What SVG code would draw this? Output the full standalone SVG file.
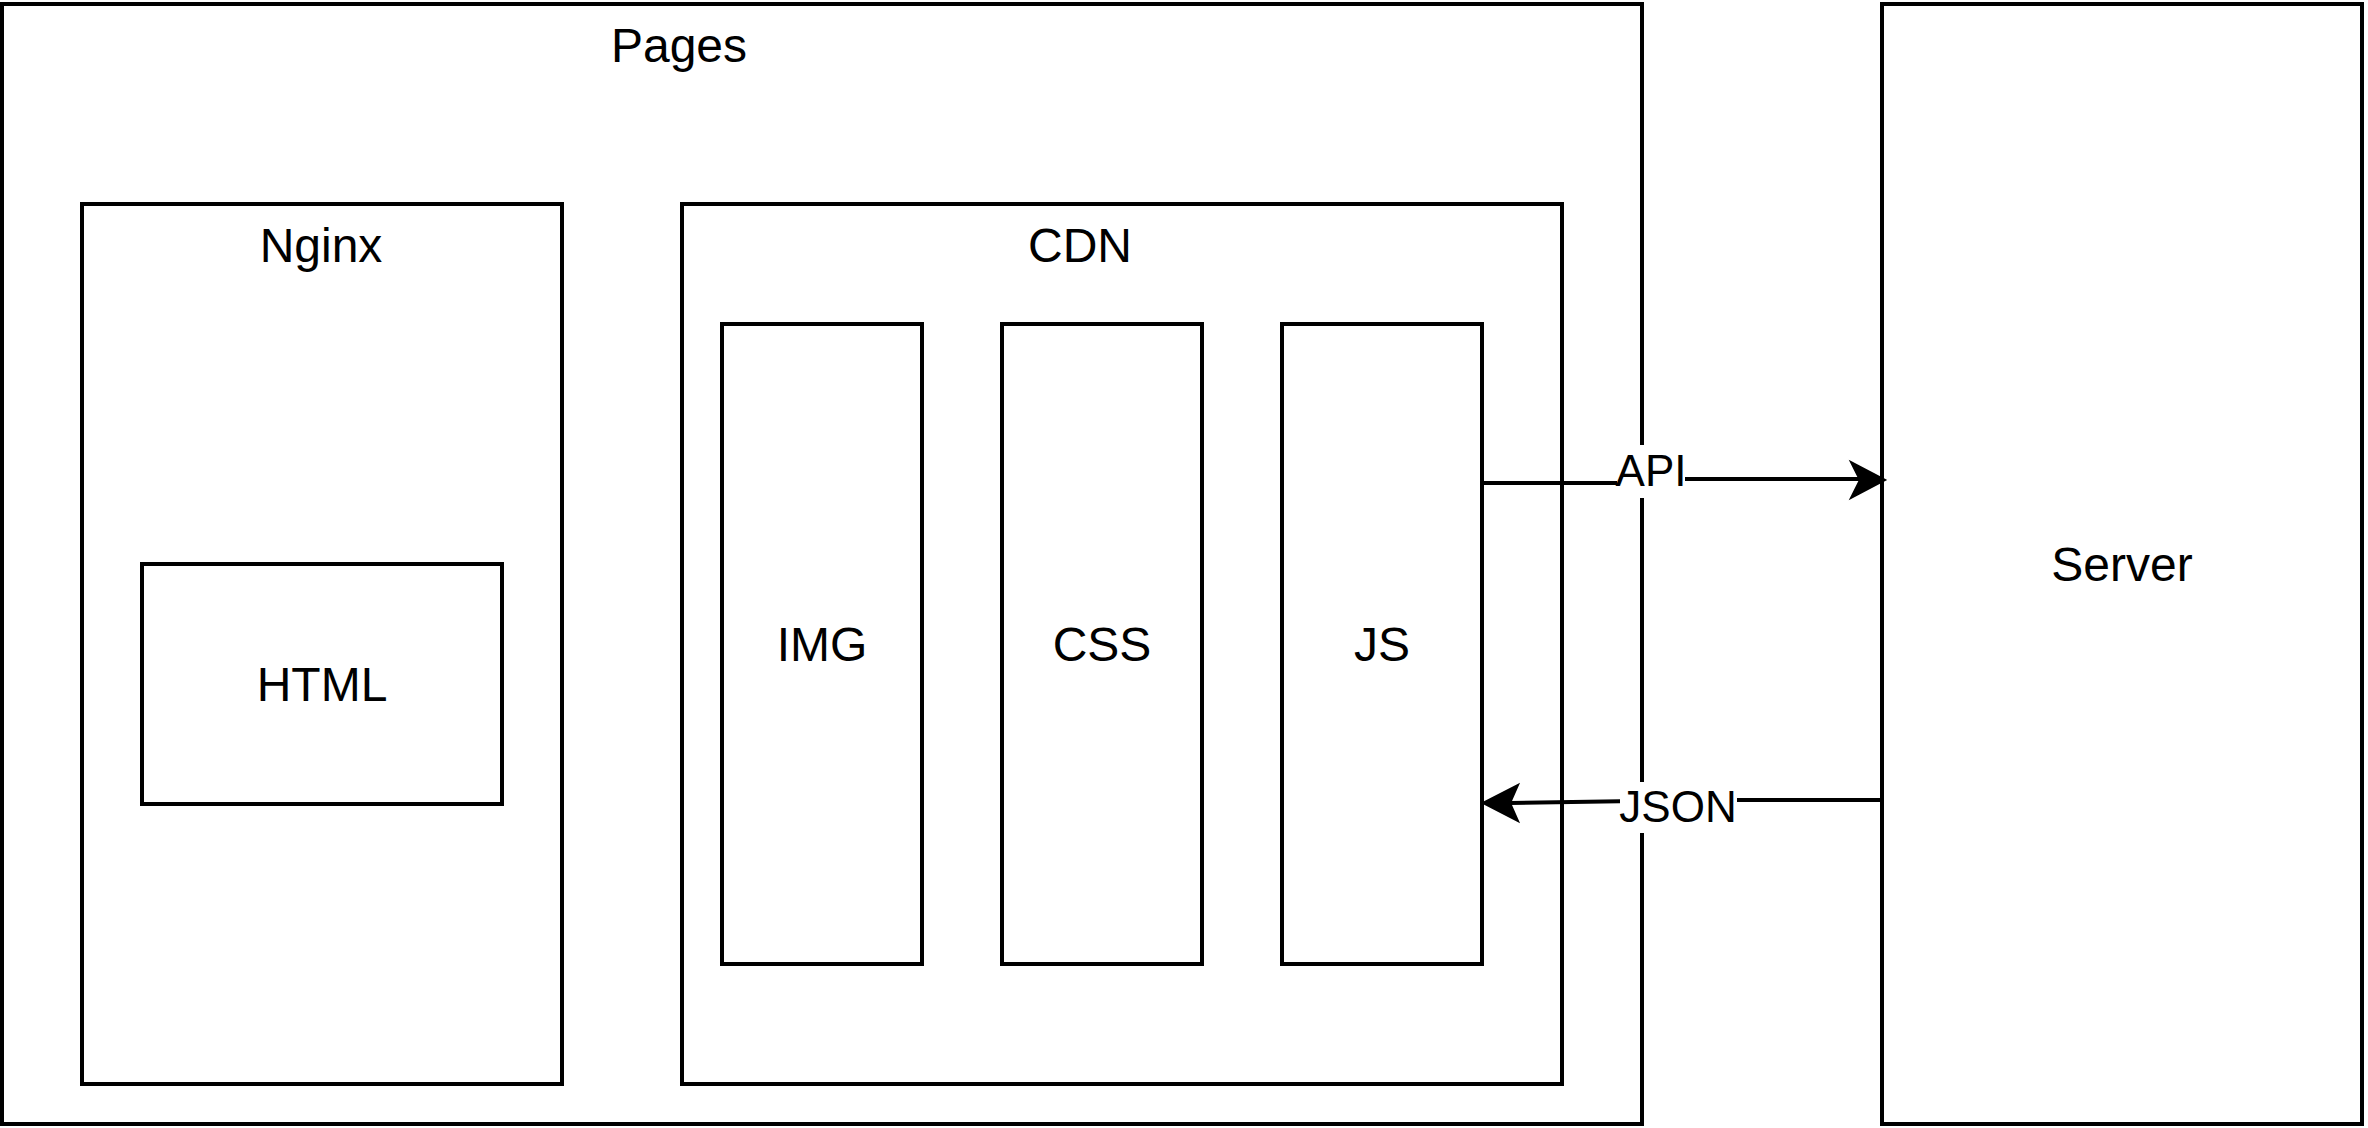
<svg xmlns="http://www.w3.org/2000/svg" width="2368" height="1128" viewBox="0 0 2368 1128">
<style>
.box{fill:#fff;stroke:#000;stroke-width:4}
.t{font-family:"Liberation Sans",Helvetica,Arial,sans-serif;font-size:48px;fill:#000;text-anchor:middle}
.el{font-family:"Liberation Sans",Helvetica,Arial,sans-serif;font-size:44px;fill:#000;text-anchor:middle}
.edge{fill:none;stroke:#000;stroke-width:4}
.lbg{fill:#fff;stroke:none}
</style>
<rect width="2368" height="1128" fill="#fff"/>
<g id="pages"><rect class="box" x="2" y="4" width="1640" height="1120"/><text class="t" x="679" y="62">Pages</text></g>
<g id="nginx"><rect class="box" x="82" y="204" width="480" height="880"/><text class="t" x="321" y="262">Nginx</text></g>
<g id="html"><rect class="box" x="142" y="564" width="360" height="240"/><text class="t" x="322" y="701">HTML</text></g>
<g id="cdn"><rect class="box" x="682" y="204" width="880" height="880"/><text class="t" x="1080" y="262">CDN</text></g>
<g id="img"><rect class="box" x="722" y="324" width="200" height="640"/><text class="t" x="822" y="661">IMG</text></g>
<g id="css"><rect class="box" x="1002" y="324" width="200" height="640"/><text class="t" x="1102" y="661">CSS</text></g>
<g id="js"><rect class="box" x="1282" y="324" width="200" height="640"/><text class="t" x="1382" y="661">JS</text></g>
<g id="server"><rect class="box" x="1882" y="4" width="480" height="1120"/><text class="t" x="2122" y="581">Server</text></g>
<g id="connectors">
<g id="api">
<path class="edge" d="M1482,483 L1650,483 L1650,479 L1860,479"/>
<polygon points="1885,480 1851,462 1860,480 1851,498" fill="#000" stroke="#000" stroke-width="2"/>
<rect class="lbg" x="1617" y="445" width="68" height="53"/>
<text class="el" x="1651" y="486">API</text>
</g>
<g id="json">
<path class="edge" d="M1882,800 L1700,800 L1510,803"/>
<polygon points="1483,803 1518,785 1510,803 1518,821" fill="#000" stroke="#000" stroke-width="2"/>
<rect class="lbg" x="1620" y="782" width="117" height="51"/>
<text class="el" x="1678" y="822">JSON</text>
</g>
</g>
</svg>
